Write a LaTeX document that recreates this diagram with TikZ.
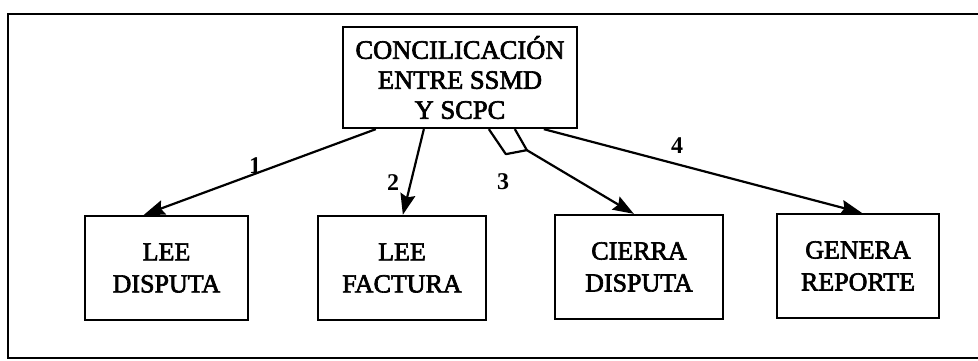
\documentclass[tikz,border=0pt]{standalone}
\usepackage{fontspec}
\setmainfont{Liberation Serif}
\newfontfamily\heavyserif{Liberation Serif}[FakeBold=2.5]
\usetikzlibrary{arrows.meta}
\tikzset{
  box/.style={draw, line width=2.3pt, rectangle, inner sep=0pt, align=center,
    font=\heavyserif\fontsize{26}{32}\selectfont},
  conn/.style={line width=2.2pt, -{Stealth[length=21pt,width=15pt,inset=3pt]}},
  lbl/.style={font=\bfseries\fontsize{24}{26}\selectfont, inner sep=0pt},
  frame/.style={line width=2.4pt}
}
\begin{document}
\begin{tikzpicture}[x=1pt,y=-1pt]
\useasboundingbox (0,0) rectangle (978,361);
% frame
\coordinate (ftl) at (8,14);
\coordinate (fbr) at (990,358);
\draw[frame] (ftl) rectangle (fbr);
% nodes
\node[box, minimum width=234pt, minimum height=101pt,
      font=\heavyserif\fontsize{26.5}{30}\selectfont] (top) at (460,77.5)
      {CONCILICACIÓN\\ENTRE SSMD\\Y SCPC};
\node[box, minimum width=163pt, minimum height=104pt] (b1) at (166.5,268) {LEE\\DISPUTA};
\node[box, minimum width=168pt, minimum height=104pt] (b2) at (402,268) {LEE\\FACTURA};
\node[box, minimum width=168pt, minimum height=104pt] (b3) at (639,267) {CIERRA\\DISPUTA};
\node[box, minimum width=162pt, minimum height=104pt] (b4) at (858,266) {GENERA\\REPORTE};
% connectors
\draw[conn] ([xshift=34pt]top.south west) -- ([xshift=60pt]b1.north west);
\draw[conn] ([xshift=82pt]top.south west) -- ([xshift=86pt]b2.north west);
% aggregation diamond
\coordinate (d1) at ([xshift=147pt]top.south west);
\coordinate (d2) at ([xshift=164pt,yshift=-25pt]top.south west);
\coordinate (d3) at ([xshift=185pt,yshift=-21pt]top.south west);
\coordinate (d4) at ([xshift=173pt]top.south west);
\draw[line width=2.2pt, line join=round] (d1) -- (d2) -- (d3) -- (d4);
\draw[conn] (d3) -- ([xshift=80pt]b3.north west);
\draw[conn] ([xshift=202pt]top.south west) -- ([xshift=86pt]b4.north west);
% labels
\node[lbl] (l1) at (255,166) {1};
\node[lbl] (l2) at (393,183) {2};
\node[lbl] (l3) at (503,182) {3};
\node[lbl] (l4) at (677,146) {4};
\end{tikzpicture}
\end{document}
